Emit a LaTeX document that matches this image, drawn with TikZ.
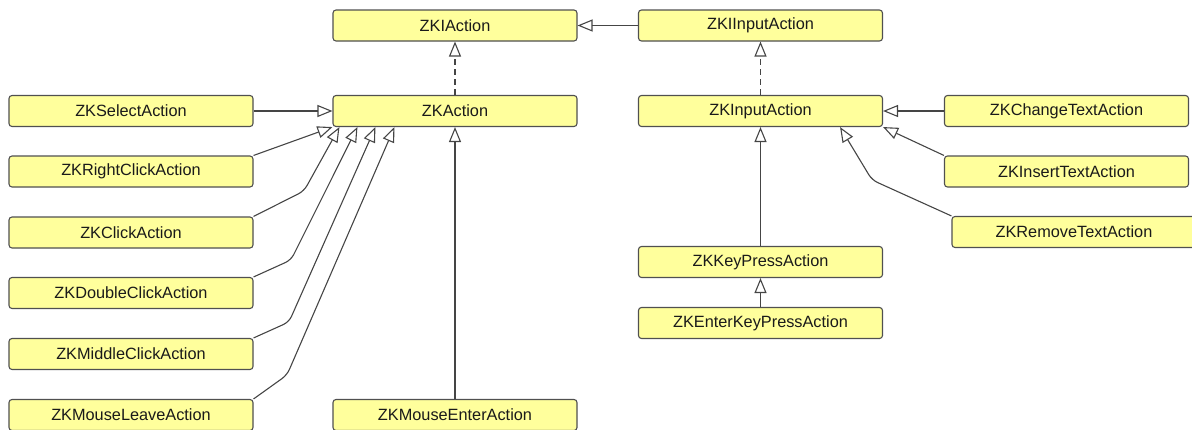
\documentclass[tikz,border=0pt]{standalone}
\usepackage{fontspec}
\setmainfont{Liberation Sans}
\usetikzlibrary{arrows.meta}
\definecolor{boxfill}{HTML}{FFFF9C}
\definecolor{boxborder}{HTML}{505050}
\definecolor{linecol}{HTML}{454545}
\definecolor{txtcol}{HTML}{1A1A1A}
\begin{document}
\begin{tikzpicture}[x=1pt,y=-1pt,
  cls/.style={draw=boxborder, fill=boxfill, rounded corners=3pt, line width=1.1pt,
    minimum width=244pt, minimum height=31pt, inner sep=0pt, text=txtcol,
    font=\fontsize{16.3}{19}\selectfont},
  inherit/.style={draw=linecol, line width=1.1pt,
    -{Triangle[open,length=15pt,width=12pt,line width=1.1pt]}},
  realize/.style={inherit, dash pattern=on 6pt off 4pt}]
\useasboundingbox (0,0) rectangle (1192,429);
% nodes
\node[cls] (ia)    at (455,25.5)   {ZKIAction};
\node[cls] (iia)   at (760.5,25.5) {ZKIInputAction};
\node[cls] (za)    at (455,111)    {ZKAction};
\node[cls] (zin)   at (760.5,111)  {ZKInputAction};
\node[cls] (sel)   at (131,111)    {ZKSelectAction};
\node[cls] (rc)    at (131,171.5)  {ZKRightClickAction};
\node[cls] (clk)   at (131,232.5)  {ZKClickAction};
\node[cls] (dbl)   at (131,293)    {ZKDoubleClickAction};
\node[cls] (mid)   at (131,354)    {ZKMiddleClickAction};
\node[cls] (lv)    at (131,415)    {ZKMouseLeaveAction};
\node[cls] (ent)   at (455,415)    {ZKMouseEnterAction};
\node[cls] (chg)   at (1066.5,111) {ZKChangeTextAction};
\node[cls] (ins)   at (1066.5,171.5) {ZKInsertTextAction};
\node[cls] (rem)   at (1074,232)   {ZKRemoveTextAction};
\node[cls] (kp)    at (760.5,262)  {ZKKeyPressAction};
\node[cls] (ekp)   at (760.5,323)  {ZKEnterKeyPressAction};
% tip coordinates
\coordinate (t1) at ([xshift=7pt]za.south west);
\coordinate (t2) at ([xshift=25pt]za.south west);
\coordinate (t3) at ([xshift=43pt]za.south west);
\coordinate (t4) at ([xshift=62pt]za.south west);
\coordinate (b1) at (304,191);
\coordinate (b2) at (291,260);
\coordinate (b3) at (289,322);
\coordinate (b4) at (287,375);
\coordinate (tr) at ([xshift=-43pt]zin.south east);
\coordinate (br) at (872,180);
% connectors
\draw[inherit] (iia) -- (ia);
\draw[realize] (za) -- (ia);
\draw[realize] (zin) -- (iia);
\draw[inherit] (sel) -- (za);
\draw[inherit] (rc.north east) -- (za.south west);
\draw[inherit, rounded corners=6pt] (clk.north east) -- (b1) -- (t1);
\draw[inherit, rounded corners=6pt] (dbl.north east) -- (b2) -- (t2);
\draw[inherit, rounded corners=6pt] (mid.north east) -- (b3) -- (t3);
\draw[inherit, rounded corners=6pt] (lv.north east) -- (b4) -- (t4);
\draw[inherit] (ent) -- (za);
\draw[inherit] (chg) -- (zin);
\draw[inherit] (ins.north west) -- (zin.south east);
\draw[inherit, rounded corners=6pt] (rem.north west) -- (br) -- (tr);
\draw[inherit] (kp) -- (zin);
\draw[inherit] (ekp) -- (kp);
\end{tikzpicture}
\end{document}
